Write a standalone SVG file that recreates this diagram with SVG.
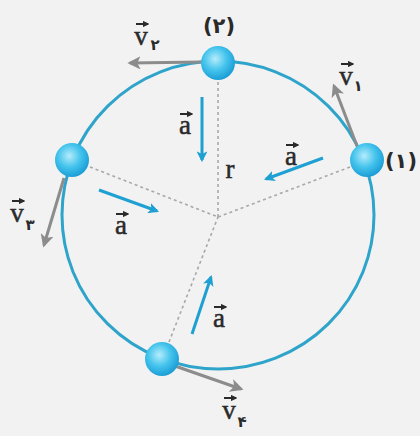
<svg xmlns="http://www.w3.org/2000/svg" width="420" height="436" viewBox="0 0 420 436">
<defs>
<radialGradient id="ball" cx="0.42" cy="0.38" r="0.62">
<stop offset="0" stop-color="#b4ecfc"/>
<stop offset="0.55" stop-color="#43c3ec"/>
<stop offset="1" stop-color="#1c9ed6"/>
</radialGradient>
<marker id="hv" viewBox="0 0 10 10" refX="8" refY="5" markerWidth="4.4" markerHeight="4.4" orient="auto" markerUnits="strokeWidth">
<path d="M0,0 L10,5 L0,10 L2.5,5 z" fill="#8c8c8c"/>
</marker>
<marker id="ha" viewBox="0 0 10 10" refX="8" refY="5" markerWidth="3.6" markerHeight="3.6" orient="auto" markerUnits="strokeWidth">
<path d="M0,0 L10,5 L0,10 L2.5,5 z" fill="#1fa0d2"/>
</marker>
<marker id="hs" viewBox="0 0 10 10" refX="8" refY="5" markerWidth="3.2" markerHeight="3.2" orient="auto" markerUnits="strokeWidth">
<path d="M0,0 L10,5 L0,10 z" fill="#2a2a2a"/>
</marker>
</defs>
<style>
.bg{fill:#f2f2f2}
.orbit{fill:none;stroke:#2fa4cb;stroke-width:3}
.dash{fill:none;stroke:#a8a8a8;stroke-width:1.6;stroke-dasharray:3 3}
.vel{fill:none;stroke:#8c8c8c;stroke-width:3;marker-end:url(#hv)}
.acc{fill:none;stroke:#1fa0d2;stroke-width:3;marker-end:url(#ha)}
.ball{fill:url(#ball)}
.lbl{font-family:"Liberation Serif","DejaVu Serif",serif;font-size:27px;fill:#2a2a2a;stroke:#2a2a2a;stroke-width:0.5}
.sub{font-family:"DejaVu Sans",sans-serif;font-size:15px;fill:#2a2a2a;font-weight:bold}
.num{font-family:"DejaVu Sans",sans-serif;font-size:21px;fill:#2a2a2a;font-weight:bold}
.vec{fill:none;stroke:#2a2a2a;stroke-width:2;marker-end:url(#hs)}
</style>
<rect class="bg" x="0" y="0" width="420" height="436"/>
<g id="connectors">
<ellipse class="orbit" cx="218" cy="215" rx="156" ry="154"/>
<line class="dash" x1="218" y1="82" x2="218" y2="217"/>
<line class="dash" x1="350" y1="167" x2="218" y2="217"/>
<line class="dash" x1="90" y1="167" x2="218" y2="217"/>
<line class="dash" x1="169" y1="342" x2="218" y2="217"/>
<line class="vel" x1="203" y1="62" x2="130" y2="63"/>
<line class="vel" x1="357" y1="146" x2="334" y2="86"/>
<line class="vel" x1="64" y1="178" x2="44" y2="245"/>
<line class="vel" x1="175" y1="366" x2="241" y2="389"/>
<line class="acc" x1="202" y1="97" x2="202" y2="160"/>
<line class="acc" x1="323" y1="158" x2="266" y2="179"/>
<line class="acc" x1="99" y1="190" x2="157" y2="211"/>
<line class="acc" x1="192" y1="334" x2="211" y2="277"/>
</g>
<g id="ball2"><circle class="ball" cx="218" cy="63" r="17"/><text class="num" x="219" y="33" text-anchor="middle">(۲)</text></g>
<g id="ball1"><circle class="ball" cx="367" cy="160" r="17"/><text class="num" x="401" y="168" text-anchor="middle">(۱)</text></g>
<g id="ball3"><circle class="ball" cx="72" cy="160" r="17"/></g>
<g id="ball4"><circle class="ball" cx="162" cy="359" r="17"/></g>
<g id="labels">
<text class="lbl" x="141" y="45" text-anchor="middle">v</text><line class="vec" x1="136" y1="24" x2="148" y2="24"/><text class="sub" x="155" y="50" text-anchor="middle">۲</text>
<text class="lbl" x="346" y="85" text-anchor="middle">v</text><line class="vec" x1="341" y1="64" x2="353" y2="64"/><text class="sub" x="358" y="91" text-anchor="middle">۱</text>
<text class="lbl" x="17" y="222" text-anchor="middle">v</text><line class="vec" x1="12" y1="201" x2="24" y2="201"/><text class="sub" x="30" y="230" text-anchor="middle">۳</text>
<text class="lbl" x="229" y="419" text-anchor="middle">v</text><line class="vec" x1="224" y1="398" x2="236" y2="398"/><text class="sub" x="242" y="427" text-anchor="middle">۴</text>
<text class="lbl" x="185" y="134" text-anchor="middle">a</text><line class="vec" x1="180" y1="114" x2="192" y2="114"/>
<text class="lbl" x="291" y="165" text-anchor="middle">a</text><line class="vec" x1="286" y1="145" x2="298" y2="145"/>
<text class="lbl" x="121" y="234" text-anchor="middle">a</text><line class="vec" x1="116" y1="214" x2="128" y2="214"/>
<text class="lbl" x="219" y="327" text-anchor="middle">a</text><line class="vec" x1="214" y1="307" x2="226" y2="307"/>
<text class="lbl" x="230" y="178" text-anchor="middle">r</text>
</g>
</svg>
